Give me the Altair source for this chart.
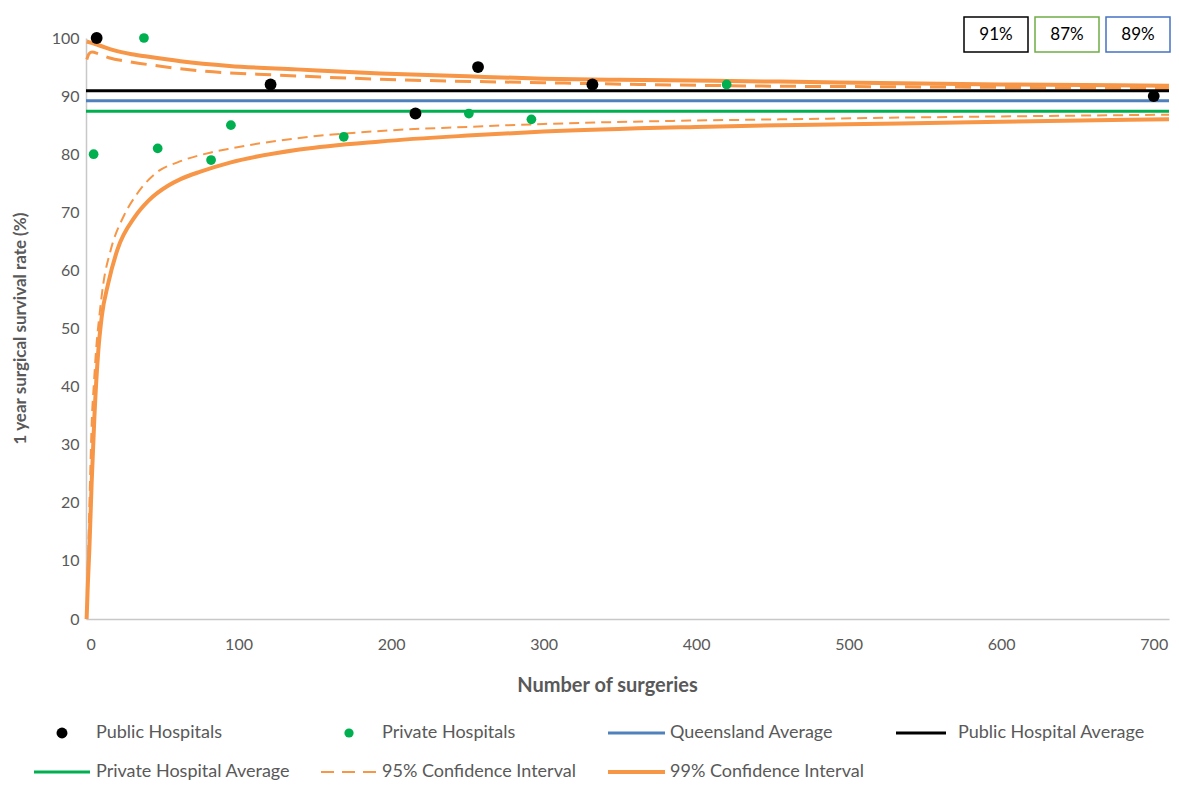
import altair as alt
import pandas as pd

# ---------------- data ----------------
public_x = [7, 121, 216, 257, 332, 700]
public_y = [100, 92, 87, 95, 92, 90]

private_x = [5, 38, 47, 82, 95, 169, 251, 292, 420]
private_y = [80, 100, 81, 79, 85, 83, 87, 86, 92]

avg_names = ["Public Hospital Average", "Queensland Average", "Private Hospital Average"]
avg_values = [90.9, 89.2, 87.4]

ci99_upper_x = [0.5, 3, 8, 18, 30, 40, 62, 94, 138, 193, 250, 300, 350, 455, 534, 600, 710]
ci99_upper_y = [99.4, 99.2, 98.8, 97.9, 97.2, 96.8, 96.0, 95.2, 94.6, 93.9, 93.4, 93.0, 92.8, 92.5, 92.2, 92.0, 91.8]

ci95_upper_x = [0.5, 2, 4, 8, 15, 29, 50, 73, 127, 193, 300, 455, 534, 710]
ci95_upper_y = [96.3, 97.3, 97.6, 97.3, 96.6, 95.9, 95.1, 94.4, 93.6, 92.9, 92.3, 91.7, 91.6, 91.3]

ci99_lower_x = [0.4, 1.2, 2.2, 3.7, 5.5, 8.1, 10.3, 14.6, 20.5, 32, 41, 54, 62, 75, 95, 140, 193, 250, 300, 400, 455, 534, 600, 710]
ci99_lower_y = [0, 6, 12, 23.4, 34.8, 46.3, 52, 57.8, 63.5, 69.2, 72.0, 74.6, 75.7, 77.0, 78.6, 80.8, 82.2, 83.2, 83.9, 84.7, 85.0, 85.3, 85.6, 86.0]

ci95_lower_x = [0.6, 0.9, 1.5, 2.6, 3.9, 5.2, 6.6, 8.7, 11.4, 16.2, 25, 33, 47, 60, 82, 95, 140, 193, 250, 300, 400, 455, 534, 600, 710]
ci95_lower_y = [0, 6, 12, 23.4, 34.8, 40.6, 46.3, 52, 57.8, 63.5, 69.5, 73.0, 77.0, 78.6, 80.3, 81.0, 82.8, 84.0, 84.7, 85.2, 85.8, 86.0, 86.3, 86.5, 86.8]

box_labels = ["91%", "87%", "89%"]

legend_labels = ["Public Hospitals", "Private Hospitals", "Queensland Average", "Public Hospital Average",
                 "Private Hospital Average", "95% Confidence Interval", "99% Confidence Interval"]

x_ticks = [0, 100, 200, 300, 400, 500, 600, 700]
y_ticks = [0, 10, 20, 30, 40, 50, 60, 70, 80, 90, 100]

# ---------------- styling / layout ----------------
FONT = "Lato"
GREY = "#595959"
ORANGE = "#F79646"
BLUE = "#4F81BD"
GREEN = "#00B050"
PLOT_W, PLOT_H = 1083, 581
XDOM = [0, 710]

xs = alt.Scale(domain=XDOM, nice=False, zero=False)
ys = alt.Scale(domain=[0, 100], nice=False)

X = alt.X("x:Q", scale=xs,
          axis=alt.Axis(values=x_ticks, title="Number of surgeries", titleX=521, titleY=66,
                        titleBaseline="middle", titleAlign="center", labelPadding=17,
                        titleFontSize=20))
Y = alt.Y("y:Q", scale=ys,
          axis=alt.Axis(values=y_ticks, title="1 year surgical survival rate (%)", titleX=-66,
                        titleY=290, titleAngle=-90, titleBaseline="middle", titleAlign="center",
                        labelPadding=7, titleFontSize=17))

def curve(xv, yv):
    return pd.DataFrame({"x": xv, "y": yv})

ci99_up = alt.Chart(curve(ci99_upper_x, ci99_upper_y)).mark_line(
    color=ORANGE, strokeWidth=4, interpolate="monotone").encode(x=X, y=Y)
ci99_lo = alt.Chart(curve(ci99_lower_x, ci99_lower_y)).mark_line(
    color=ORANGE, strokeWidth=4, interpolate="monotone").encode(x=X, y=Y)
ci95_up = alt.Chart(curve(ci95_upper_x, ci95_upper_y)).mark_line(
    color=ORANGE, strokeWidth=3, strokeDash=[16, 9], interpolate="monotone").encode(x=X, y=Y)
ci95_lo = alt.Chart(curve(ci95_lower_x, ci95_lower_y)).mark_line(
    color=ORANGE, strokeWidth=2, strokeDash=[10, 6], interpolate="monotone").encode(x=X, y=Y)

avg_df = pd.DataFrame({"name": avg_names, "y": avg_values})
avg_colors = ["#000000", BLUE, GREEN]
avg_rules = alt.Chart(avg_df).mark_rule(strokeWidth=3).encode(
    y=alt.Y("y:Q", scale=ys),
    color=alt.Color("name:N", scale=alt.Scale(domain=avg_names, range=avg_colors), legend=None),
)

pub = alt.Chart(pd.DataFrame({"x": public_x, "y": public_y})).mark_circle(
    color="#000000", size=140, opacity=1).encode(x=X, y=Y)
priv = alt.Chart(pd.DataFrame({"x": private_x, "y": private_y})).mark_circle(
    color=GREEN, size=95, opacity=1).encode(x=X, y=Y)

# ---- value boxes (top right) ----
box_x0 = [878, 949, 1020]
box_w = 64
box_colors = ["#000000", "#70AD47", "#4472C4"]
box_df = pd.DataFrame({"label": box_labels, "x0": box_x0,
                       "x1": [v + box_w for v in box_x0],
                       "xc": [v + box_w / 2 for v in box_x0],
                       "c": box_colors})
boxes = alt.Chart(box_df).mark_rect(fill="white", strokeWidth=1.5).encode(
    x=alt.X("x0:Q", scale=None), x2="x1:Q",
    y=alt.value(-21), y2=alt.value(14),
    stroke=alt.Stroke("c:N", scale=None, legend=None))
box_text = alt.Chart(box_df).mark_text(font=FONT, fontSize=17, color="#000000",
                                       baseline="middle", align="center").encode(
    x=alt.X("xc:Q", scale=None), y=alt.value(-3), text="label:N")

# ---- legend (manual) ----
row_y = [695, 734]
col_text_x = [10, 296, 584, 872]
col_line = [(-52, 4), (235, 290), (522, 579), (810, 860)]
col_dot = [-24, 263]
leg_pos = [(0, 0), (0, 1), (0, 2), (0, 3), (1, 0), (1, 1), (1, 2)]
leg_df = pd.DataFrame({
    "label": legend_labels,
    "tx": [col_text_x[c] for r, c in leg_pos],
    "ty": [row_y[r] for r, c in leg_pos],
})
leg_text = alt.Chart(leg_df).mark_text(font=FONT, fontSize=18, color=GREY,
                                       align="left", baseline="middle").encode(
    x=alt.X("tx:Q", scale=None), y=alt.Y("ty:Q", scale=None), text="label:N")

leg_dots = []
for i, (col, sz) in enumerate([("#000000", 120), (GREEN, 85)]):
    r, c = leg_pos[i]
    leg_dots.append(alt.Chart(pd.DataFrame({"k": [legend_labels[i]]})).mark_circle(
        color=col, size=sz, opacity=1).encode(x=alt.value(col_dot[c]), y=alt.value(row_y[r])))

leg_lines = []
line_styles = {
    2: dict(color=BLUE, strokeWidth=3),
    3: dict(color="#000000", strokeWidth=3),
    4: dict(color=GREEN, strokeWidth=3),
    5: dict(color=ORANGE, strokeWidth=2, strokeDash=[13, 8]),
    6: dict(color=ORANGE, strokeWidth=4),
}
for i, st in line_styles.items():
    r, c = leg_pos[i]
    x0, x1 = col_line[c]
    leg_lines.append(alt.Chart(pd.DataFrame({"k": [legend_labels[i]]})).mark_rule(**st).encode(
        x=alt.value(x0), x2=alt.value(x1), y=alt.value(row_y[r])))

chart = alt.layer(
    ci95_lo, ci95_up, ci99_lo, ci99_up, avg_rules, pub, priv,
    boxes, box_text, leg_text, *leg_dots, *leg_lines
).properties(
    width=PLOT_W, height=PLOT_H,
    autosize=alt.AutoSizeParams(type="none"),
    padding={"left": 78, "top": 30, "right": 2, "bottom": 162},
).configure_view(stroke=None).configure_axis(
    grid=False, ticks=False, domainColor="#C8C8C8", domainWidth=1.5,
    labelFont=FONT, labelFontSize=16, labelColor=GREY,
    titleFont=FONT, titleFontWeight="bold", titleColor=GREY,
)

chart.save("out.html", embed_options={"renderer": "svg", "actions": False})
